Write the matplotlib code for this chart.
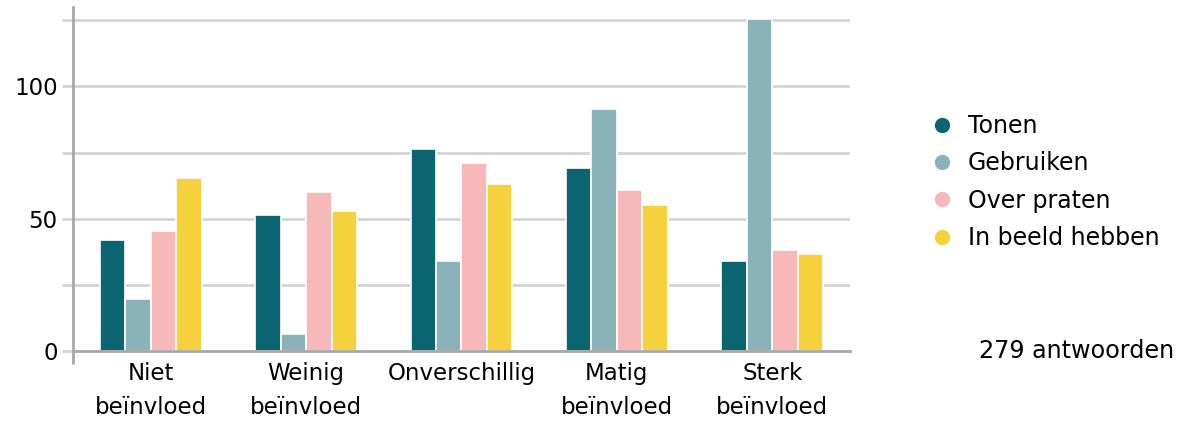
import numpy as np
import matplotlib.pyplot as plt
from matplotlib.lines import Line2D

categories = ['Niet\nbeïnvloed', 'Weinig\nbeïnvloed', 'Onverschillig', 'Matig\nbeïnvloed', 'Sterk\nbeïnvloed']
series = ['Tonen', 'Gebruiken', 'Over praten', 'In beeld hebben']
tonen = [42, 51.5, 76.5, 69.3, 34]
gebruiken = [19.7, 6.4, 34, 91.3, 125.4]
over_praten = [45.5, 60, 71, 61, 38]
in_beeld = [65.5, 53, 63, 55, 36.7]
values = [tonen, gebruiken, over_praten, in_beeld]
colors = ['#0b6570', '#89b3b9', '#f7b8ba', '#f5d13e']
note = '279 antwoorden'

plt.rcParams['font.family'] = ['DejaVu Sans']
fig = plt.figure(figsize=(11.85, 4.28), dpi=100)
ax = fig.add_axes([73/1185, 1-351/428, 777/1185, 344/428])

x = np.arange(len(categories))
w = 0.164
for i, (vals, c) in enumerate(zip(values, colors)):
    ax.bar(x + (i - 1.5) * w, vals, width=w, color=c, edgecolor='white',
           linewidth=1.2, zorder=3)

ax.set_xlim(-0.5, 4.5)
ax.set_ylim(0, 130)
ax.set_yticks(np.arange(0, 126, 25))
ax.set_yticklabels(['0', '', '50', '', '100', ''])
ax.yaxis.grid(True, color='#d4d4d4', linewidth=2, zorder=0)
ax.tick_params(axis='y', length=8, width=2, color='#d4d4d4', labelsize=16.5, pad=3)
ax.set_xticks(x)
ax.set_xticklabels(categories, fontsize=16.5, linespacing=1.6)
ax.tick_params(axis='x', length=0, pad=8)
ax.set_xticks([-0.5], minor=True)
ax.tick_params(axis='x', which='minor', length=9, width=2, color='#a8a8a8')

for s in ['top', 'right']:
    ax.spines[s].set_visible(False)
for s in ['left', 'bottom']:
    ax.spines[s].set_color('#a8a8a8')
    ax.spines[s].set_linewidth(2)
    ax.spines[s].set_zorder(4)

handles = [Line2D([], [], marker='o', linestyle='', markersize=10,
                  markerfacecolor=c, markeredgecolor=c) for c in colors]
fig.legend(handles, series, loc='center left', bbox_to_anchor=(909/1185, 1-182/428),
           frameon=False, fontsize=17, handletextpad=0.6, labelspacing=0.57,
           handlelength=1.0)
fig.text(1077/1185, 1-351/428, note, fontsize=17.2, ha='center', va='center')

fig.savefig('out.png', dpi=100)
